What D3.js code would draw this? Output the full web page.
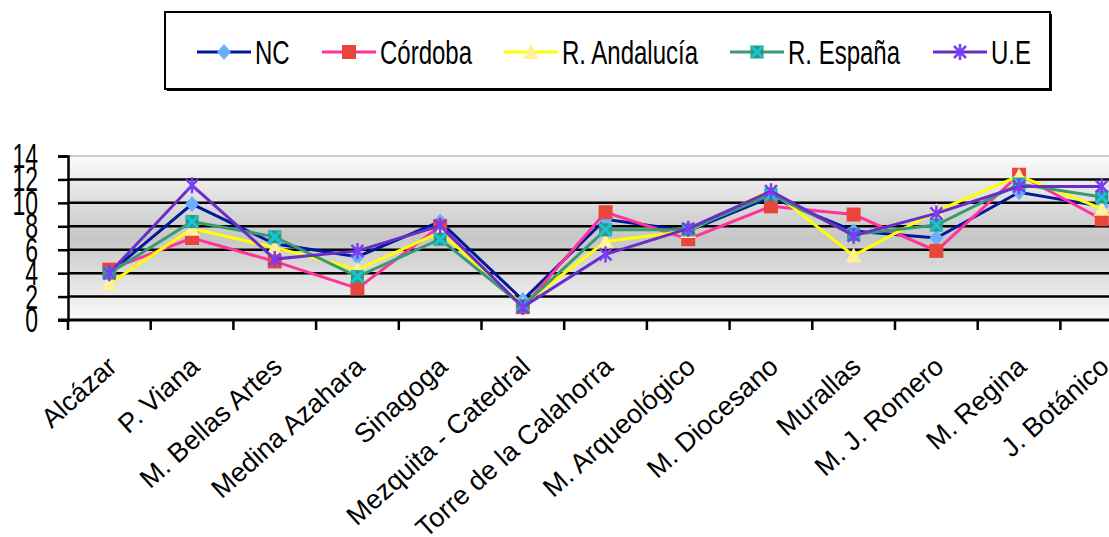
<!DOCTYPE html>
<html>
<head>
<meta charset="utf-8">
<script src="https://cdn.jsdelivr.net/npm/d3@7"></script>
<style>
  body { margin: 0; background: #fff; }
  text { font-family: "Liberation Sans", Arial, sans-serif; fill: #000; }
</style>
</head>
<body>
<div id="chart"></div>
<script>
// Data
const categories = ["Alcázar", "P. Viana", "M. Bellas Artes", "Medina Azahara", "Sinagoga",
  "Mezquita - Catedral", "Torre de la Calahorra", "M. Arqueológico", "M. Diocesano",
  "Murallas", "M. J. Romero", "M. Regina", "J. Botánico"];
const seriesNames = ["NC", "Córdoba", "R. Andalucía", "R. España", "U.E"];
const nc        = [4.0, 9.9, 6.5, 5.4, 8.4, 1.7, 8.6, 7.6, 10.5, 7.6, 7.0, 10.9, 9.7];
const cordoba   = [4.3, 7.0, 5.0, 2.7, 8.0, 1.1, 9.2, 6.9, 9.7, 9.0, 5.9, 12.4, 8.6];
const andalucia = [3.1, 7.8, 6.2, 4.3, 7.5, 1.3, 6.7, 7.6, 11.1, 5.5, 9.3, 12.3, 9.5];
const espana    = [4.0, 8.4, 7.1, 3.7, 6.9, 1.2, 7.7, 7.7, 10.7, 7.3, 8.1, 11.6, 10.5];
const ue        = [4.0, 11.5, 5.2, 5.9, 8.05, 1.1, 5.6, 7.8, 11.0, 7.2, 9.1, 11.4, 11.4];
const yTicks = [0, 2, 4, 6, 8, 10, 12, 14];

const W = 1109, H = 537;
const plot = { left: 68, top: 156, bottom: 320, bandW: 82.7 };

const svg = d3.select("#chart").append("svg")
  .attr("width", W).attr("height", H);

// Background gradient of the plot area
const defs = svg.append("defs");
const grad = defs.append("linearGradient").attr("id", "bg")
  .attr("x1", 0).attr("y1", 0).attr("x2", 0).attr("y2", 1);
grad.append("stop").attr("offset", "0%").attr("stop-color", "#fbfbfb");
grad.append("stop").attr("offset", "50%").attr("stop-color", "#c6c6c6");
grad.append("stop").attr("offset", "100%").attr("stop-color", "#fbfbfb");

// Scales
const x = d3.scaleBand()
  .domain(categories)
  .range([plot.left, plot.left + plot.bandW * categories.length]);
const y = d3.scaleLinear().domain([0, 14]).range([plot.bottom, plot.top]);
const cx = d => x(d) + x.bandwidth() / 2;

svg.append("rect")
  .attr("x", plot.left).attr("y", y(14))
  .attr("width", x.range()[1] - plot.left).attr("height", y(0) - y(14))
  .attr("fill", "url(#bg)");

// Gridlines
svg.selectAll(".grid")
  .data(yTicks.filter(v => v > 0))
  .enter().append("line")
  .attr("x1", plot.left).attr("x2", x.range()[1])
  .attr("y1", d => y(d)).attr("y2", d => y(d))
  .attr("stroke", d => d === 14 ? "#b8b8b8" : "#000")
  .attr("stroke-width", d => d === 14 ? 1.5 : 2.5);

// Y axis
const yAxis = svg.append("g")
  .attr("transform", `translate(${plot.left},0)`)
  .call(d3.axisLeft(y).tickValues(yTicks).tickSize(10).tickFormat(""));
yAxis.select(".domain").attr("stroke", "#000").attr("stroke-width", 2.5);
yAxis.selectAll(".tick line").attr("stroke", "#000").attr("stroke-width", 2.5);

svg.selectAll(".ylab")
  .data(yTicks)
  .enter().append("text")
  .attr("class", "ylab")
  .attr("transform", d => `translate(38,${y(d) + 12}) scale(1,1.5)`)
  .attr("text-anchor", "end")
  .style("font-size", "23px")
  .text(d => d);

// X axis
const xAxis = svg.append("g")
  .attr("transform", `translate(0,${plot.bottom})`)
  .call(d3.axisBottom(x).tickSize(0).tickFormat(""));
xAxis.select(".domain").attr("stroke", "#000").attr("stroke-width", 3)
  .attr("d", `M${plot.left - 10},0H${x.range()[1]}`);
svg.selectAll(".xtick")
  .data(d3.range(categories.length + 1))
  .enter().append("line")
  .attr("x1", i => plot.left + i * x.bandwidth()).attr("x2", i => plot.left + i * x.bandwidth())
  .attr("y1", plot.bottom).attr("y2", plot.bottom + 10)
  .attr("stroke", "#000").attr("stroke-width", 2.5);

svg.selectAll(".xlab")
  .data(categories)
  .enter().append("text")
  .attr("class", "xlab")
  .attr("transform", d => `translate(${cx(d) + 9},${plot.bottom + 49}) rotate(-42)`)
  .attr("text-anchor", "end")
  .style("font-size", "27px")
  .text(d => d);

// Markers
function drawMarker(g, kind) {
  if (kind === "diamond") {
    g.append("path").attr("d", "M0,-8L7,0L0,8L-7,0Z").attr("fill", "#6aaeff");
  } else if (kind === "square") {
    g.append("rect").attr("x", -7).attr("y", -7).attr("width", 14).attr("height", 14)
      .attr("fill", "#e8453c");
  } else if (kind === "triangle") {
    g.append("path").attr("d", "M0,-8L8,7L-8,7Z").attr("fill", "#fff09a");
  } else if (kind === "xsquare") {
    g.append("rect").attr("x", -6.5).attr("y", -6.5).attr("width", 13).attr("height", 13)
      .attr("fill", "#2f9a72");
    g.append("path").attr("d", "M-6,-6L6,6M6,-6L-6,6")
      .attr("stroke", "#18c2dc").attr("stroke-width", 3);
  } else if (kind === "star") {
    g.append("path").attr("d", "M-6,-6L6,6M6,-6L-6,6M0,-8L0,8")
      .attr("stroke", "#7b3cf6").attr("stroke-width", 2.5);
  }
}

const series = [
  { name: seriesNames[0], values: nc, line: "#001a9a", marker: "diamond" },
  { name: seriesNames[1], values: cordoba, line: "#ff3399", marker: "square" },
  { name: seriesNames[2], values: andalucia, line: "#ffff00", marker: "triangle" },
  { name: seriesNames[3], values: espana, line: "#3a9a72", marker: "xsquare" },
  { name: seriesNames[4], values: ue, line: "#6a2ec8", marker: "star" }
];

const line = d3.line()
  .x((d, i) => cx(categories[i]))
  .y(d => y(d));

series.forEach(s => {
  const g = svg.append("g");
  g.append("path")
    .datum(s.values)
    .attr("d", line)
    .attr("fill", "none")
    .attr("stroke", s.line)
    .attr("stroke-width", 3);
  s.values.forEach((v, i) => {
    const m = g.append("g").attr("transform", `translate(${cx(categories[i])},${y(v)})`);
    drawMarker(m, s.marker);
  });
});

// Legend
const legend = svg.append("g");
legend.append("rect")
  .attr("x", 167).attr("y", 14).attr("width", 885).attr("height", 77)
  .attr("fill", "#000");
legend.append("rect")
  .attr("x", 165).attr("y", 12).attr("width", 885).attr("height", 77)
  .attr("fill", "#fff").attr("stroke", "#000").attr("stroke-width", 2);

const legendX = [197, 322, 504, 730, 933];
series.forEach((s, i) => {
  const item = legend.append("g").attr("transform", `translate(${legendX[i]},52)`);
  item.append("line").attr("x1", 0).attr("x2", 54).attr("y1", 0).attr("y2", 0)
    .attr("stroke", s.line).attr("stroke-width", 3);
  drawMarker(item.append("g").attr("transform", "translate(27,0)"), s.marker);
  item.append("text")
    .attr("transform", "translate(58,11.5) scale(1,1.35)")
    .style("font-size", "24px")
    .text(s.name);
});
</script>
</body>
</html>
